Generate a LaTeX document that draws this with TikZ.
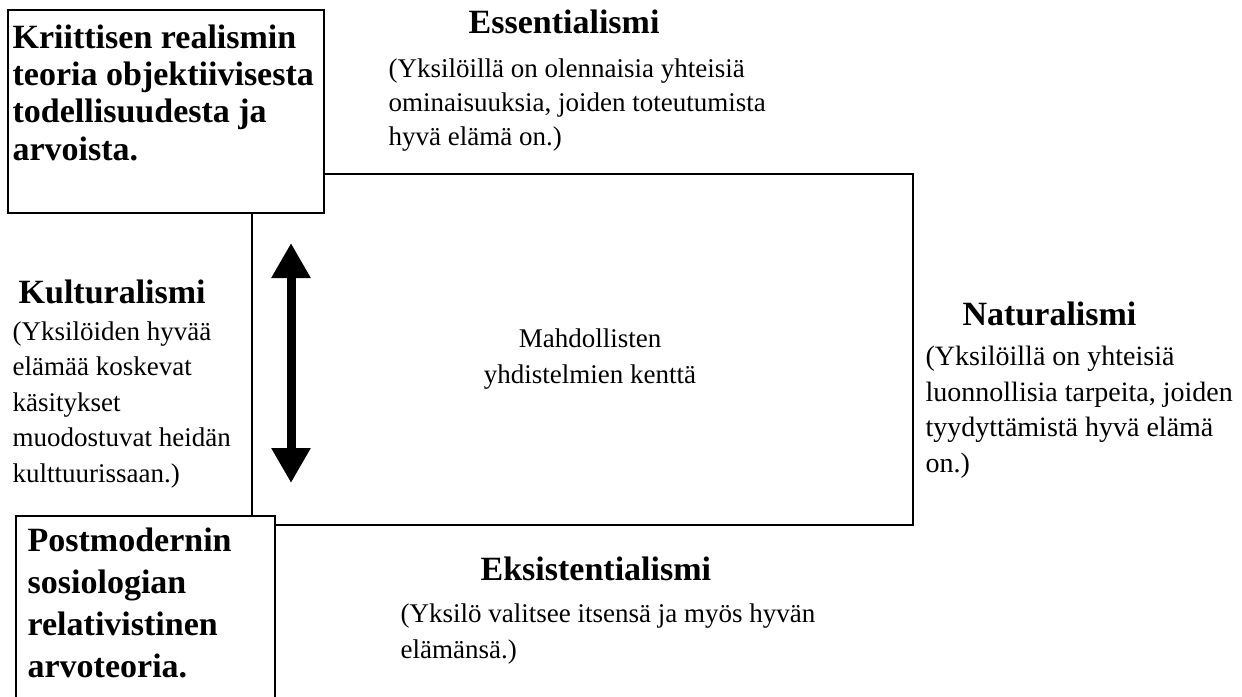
\documentclass[tikz,border=0pt]{standalone}
\usepackage{fontspec}
\setmainfont{Liberation Serif}
\usetikzlibrary{arrows.meta}
\begin{document}
\begin{tikzpicture}[x=1pt,y=-1pt,line width=1.3pt,
  head/.style={font=\fontsize{34}{37}\selectfont\bfseries,inner sep=0pt,anchor=base west,align=left},
  body/.style={font=\fontsize{27}{35.5}\selectfont,inner sep=0pt,anchor=base west,align=left},
  box/.style={draw=black,fill=white},
  bigarrow/.style={line width=9pt,{Triangle[length=35pt,width=37pt]}-{Triangle[length=35pt,width=37pt]}}]
\useasboundingbox (0,0) rectangle (1242,696);
\fill[white] (0,0) rectangle (1242,696);
% field rectangle
\draw (252,174) rectangle (913,525);
% boxes covering its corners
\draw[box] (8,10) rectangle (324,213);
\draw[box] (16,516) rectangle (275,720);
% box texts (anchor = baseline of last line)
\node[head,font=\fontsize{34}{37.3}\selectfont\bfseries] (krit) at (12,160)
  {Kriittisen realismin\\teoria objektiivisesta\\todellisuudesta ja\\arvoista.};
\node[head,font=\fontsize{34}{41.7}\selectfont\bfseries] (post) at (27,677)
  {Postmodernin\\sosiologian\\relativistinen\\arvoteoria.};
% Essentialismi
\node[head] (ess) at (468,33) {Essentialismi};
\node[body,font=\fontsize{27}{34}\selectfont] (essb) at (388,145)
  {(Yksilöillä on olennaisia yhteisiä\\ominaisuuksia, joiden toteutumista\\hyvä elämä on.)};
% Kulturalismi
\node[head] (kult) at (18,303) {Kulturalismi};
\node[body] (kultb) at (12,482)
  {(Yksilöiden hyvää\\elämää koskevat\\käsitykset\\muodostuvat heidän\\kulttuurissaan.)};
% centre
\node[font=\fontsize{27}{36}\selectfont,inner sep=0pt,anchor=base,align=center] (mahd) at (590,383)
  {Mahdollisten\\yhdistelmien kenttä};
% Naturalismi
\node[head] (nat) at (962,325) {Naturalismi};
\node[body,font=\fontsize{28}{35.5}\selectfont] (natb) at (925,472)
  {(Yksilöillä on yhteisiä\\luonnollisia tarpeita, joiden\\tyydyttämistä hyvä elämä\\on.)};
% Eksistentialismi
\node[head] (eks) at (480,580) {Eksistentialismi};
\node[body] (eksb) at (400,658)
  {(Yksilö valitsee itsensä ja myös hyvän\\elämänsä.)};
% arrow
\coordinate (atop) at (291,243);
\coordinate (abot) at (291,483);
\draw[bigarrow] (atop) -- (abot);
\end{tikzpicture}
\end{document}
